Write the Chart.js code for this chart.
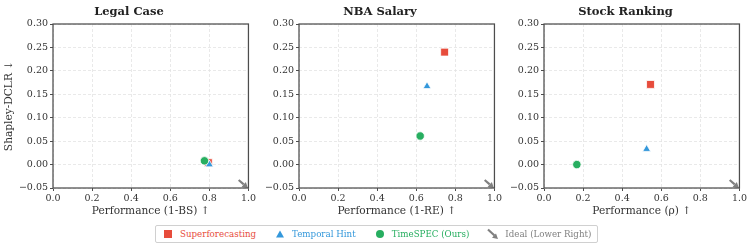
<!DOCTYPE html>
<html>
<head>
<meta charset="utf-8">
<script src="https://cdn.jsdelivr.net/npm/chart.js@4/dist/chart.umd.min.js"></script>
<style>
  html, body { margin: 0; padding: 0; background: #fff; }
  body { width: 753px; height: 248px; position: relative; overflow: hidden; font-family: "DejaVu Serif", serif; }
  .panel { position: absolute; top: 0; }
  #legend { position: absolute; left: 155px; top: 225px; height: 16px; border: 1px solid #d0d0d0; border-radius: 2px;
            display: flex; align-items: center; padding: 0 6px 0 5px; font-size: 8.7px; white-space: nowrap; background: #fff; }
  .item { display: flex; align-items: center; margin-right: 17px; }
  .item:last-child { margin-right: 0; }
  .mk { width: 14px; height: 12px; margin-right: 5px; display: block; }
</style>
</head>
<body>
<div class="panel" style="left:0px"><canvas id="c1" width="258" height="218"></canvas></div>
<div class="panel" style="left:256px"><canvas id="c2" width="248" height="218"></canvas></div>
<div class="panel" style="left:502px"><canvas id="c3" width="247" height="218"></canvas></div>
<div id="legend"></div>
<script>
// ---- data ----
const panelTitles = ["Legal Case", "NBA Salary", "Stock Ranking"];
const xAxisLabels = ["Performance (1-BS) \u2191", "Performance (1-RE) \u2191", "Performance (\u03c1) \u2191"];
const yAxisLabel = "Shapley-DCLR \u2193";
const seriesNames = ["Superforecasting", "Temporal Hint", "TimeSPEC (Ours)"];
const idealLabel = "Ideal (Lower Right)";
// per panel [Legal, NBA, Stock]
const superX = [0.795, 0.745, 0.545];
const superY = [0.004, 0.240, 0.171];
const hintX = [0.80, 0.655, 0.525];
const hintY = [0.000, 0.167, 0.033];
const specX = [0.775, 0.620, 0.168];
const specY = [0.008, 0.061, 0.000];
const idealStart = [0.95, -0.033];
const idealEnd = [0.997, -0.050];
const xTicks = [0.0, 0.2, 0.4, 0.6, 0.8, 1.0];
const yTicks = [-0.05, 0.00, 0.05, 0.10, 0.15, 0.20, 0.25, 0.30];

const colors = { red: "#e74c3c", blue: "#3498db", green: "#27ae60", gray: "#808080" };
const serif = "'DejaVu Serif', serif";

function drawArrow(ctx, x0, y0, x1, y1, color, lw, head) {
  const ang = Math.atan2(y1 - y0, x1 - x0);
  const bx = x1 - head * Math.cos(ang), by = y1 - head * Math.sin(ang);
  ctx.save();
  ctx.strokeStyle = color; ctx.fillStyle = color; ctx.lineWidth = lw; ctx.lineCap = "butt";
  ctx.beginPath(); ctx.moveTo(x0, y0); ctx.lineTo(bx, by); ctx.stroke();
  const w = head * 0.6;
  ctx.beginPath();
  ctx.moveTo(x1, y1);
  ctx.lineTo(bx + w * Math.sin(ang), by - w * Math.cos(ang));
  ctx.lineTo(bx - w * Math.sin(ang), by + w * Math.cos(ang));
  ctx.closePath(); ctx.fill();
  ctx.restore();
}

const framePlugin = {
  id: "frame",
  afterDatasetsDraw(chart) {
    const { ctx, scales } = chart;
    drawArrow(ctx, scales.x.getPixelForValue(idealStart[0]), scales.y.getPixelForValue(idealStart[1]),
              scales.x.getPixelForValue(idealEnd[0]), scales.y.getPixelForValue(idealEnd[1]), colors.gray, 2.2, 5.5);
  },
  afterDraw(chart) {
    const { ctx, chartArea: a } = chart;
    ctx.save();
    ctx.strokeStyle = "#4d4d4d"; ctx.lineWidth = 1.25;
    ctx.strokeRect(a.left, a.top, a.right - a.left, a.bottom - a.top);
    ctx.restore();
  }
};

function fmtY(v) {
  if (Math.abs(v) < 1e-9) return "0.00";
  return v < 0 ? "\u2212" + Math.abs(v).toFixed(2) : v.toFixed(2);
}

function makeChart(id, i, yWidth, showYTitle) {
  const mk = (label, x, y, style, color, r, order) => ({
    label, data: [{ x, y }], pointStyle: style, pointRadius: r, pointHoverRadius: r,
    backgroundColor: color, borderColor: "#ffffff", borderWidth: 0.8, order, showLine: false
  });
  new Chart(document.getElementById(id), {
    type: "scatter",
    data: {
      datasets: [
        mk(seriesNames[0], superX[i], superY[i], "rect", colors.red, 5.6, 3),
        mk(seriesNames[1], hintX[i], hintY[i], "triangle", colors.blue, 4.6, 2),
        mk(seriesNames[2], specX[i], specY[i], "circle", colors.green, 4.2, 1)
      ]
    },
    options: {
      responsive: false, animation: false, devicePixelRatio: 1,
      layout: { padding: { left: 0, right: 0, top: 0, bottom: 0 } },
      plugins: {
        legend: { display: false }, tooltip: { enabled: false },
        title: { display: true, text: panelTitles[i], color: "#222",
                 font: { family: serif, size: 11.5, weight: "bold" }, padding: { top: 5, bottom: 5.2 } }
      },
      scales: {
        x: {
          type: "linear", min: 0, max: 1,
          afterBuildTicks: s => { s.ticks = xTicks.map(v => ({ value: v })); },
          afterFit: s => { s.height = 30; },
          ticks: { callback: v => v.toFixed(1), color: "#333", font: { family: serif, size: 9.5 }, padding: 2, maxRotation: 0 },
          grid: { color: "#e3e3e3", lineWidth: 0.8, tickColor: "#4d4d4d", tickLength: 3, tickWidth: 1 },
          border: { display: false, dash: [3, 2] },
          title: { display: true, text: xAxisLabels[i], color: "#333", font: { family: serif, size: 10.6 }, padding: { top: 0, bottom: 0 } }
        },
        y: {
          type: "linear", min: -0.05, max: 0.30,
          afterBuildTicks: s => { s.ticks = yTicks.map(v => ({ value: v })); },
          afterFit: s => { s.width = yWidth; },
          ticks: { callback: v => fmtY(v), color: "#333", font: { family: serif, size: 9.5 }, padding: 2 },
          grid: { color: "#e3e3e3", lineWidth: 0.8, tickColor: "#4d4d4d", tickLength: 3, tickWidth: 1 },
          border: { display: false, dash: [3, 2] },
          title: { display: showYTitle, text: yAxisLabel, color: "#333", font: { family: serif, size: 10.6 }, padding: { top: 3, bottom: 0 } }
        }
      }
    },
    plugins: [framePlugin]
  });
}

makeChart("c1", 0, 53, true);
makeChart("c2", 1, 43, false);
makeChart("c3", 2, 42, false);

// ---- legend (HTML) ----
function svgMarker(kind, color) {
  let shape = "";
  if (kind === "rect") shape = `<rect x="3" y="2" width="8" height="8" fill="${color}"/>`;
  if (kind === "triangle") shape = `<polygon points="7,2.5 11,9.5 3,9.5" fill="${color}"/>`;
  if (kind === "circle") shape = `<circle cx="7" cy="6" r="4" fill="${color}"/>`;
  if (kind === "arrow") shape = `<line x1="2" y1="1.5" x2="8.5" y2="7.5" stroke="${color}" stroke-width="2.2"/><polygon points="12,11 6,9.7 10,5.6" fill="${color}"/>`;
  return `<svg class="mk" viewBox="0 0 14 12">${shape}</svg>`;
}
const legendItems = [
  ["rect", colors.red, seriesNames[0]],
  ["triangle", colors.blue, seriesNames[1]],
  ["circle", colors.green, seriesNames[2]],
  ["arrow", colors.gray, idealLabel]
];
document.getElementById("legend").innerHTML = legendItems.map(([k, c, t]) =>
  `<div class="item">${svgMarker(k, c)}<span style="color:${c}">${t}</span></div>`).join("");
</script>
</body>
</html>
